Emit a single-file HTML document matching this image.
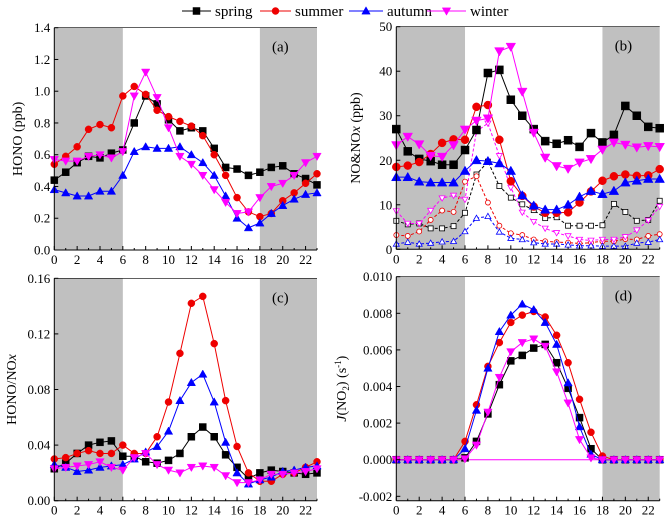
<!DOCTYPE html>
<html><head><meta charset="utf-8"><style>
html,body{margin:0;padding:0;background:#fff}
svg{display:block;font-family:"Liberation Serif",serif}
</style></head><body>
<svg id="chart" width="666" height="524" viewBox="0 0 666 524" xmlns="http://www.w3.org/2000/svg">
<g id="legend"></g>
</svg>
<script>
const hours=[0,1,2,3,4,5,6,7,8,9,10,11,12,13,14,15,16,17,18,19,20,21,22,23];
const seasons=["spring","summer","autumn","winter"];
const xTicks=[0,2,4,6,8,10,12,14,16,18,20,22];
// Panel a: HONO
const honoSpring=[.44,.49,.55,.59,.58,.61,.63,.80,.97,.92,.82,.75,.77,.75,.64,.52,.51,.47,.49,.52,.53,.48,.45,.41];
const honoSummer=[.54,.59,.65,.76,.79,.77,.97,1.03,.98,.88,.84,.81,.78,.72,.60,.47,.33,.24,.21,.23,.31,.36,.42,.48];
const honoAutumn=[.38,.36,.34,.34,.37,.37,.47,.62,.65,.64,.64,.65,.60,.55,.47,.34,.20,.14,.17,.23,.28,.32,.35,.36];
const honoWinter=[.57,.56,.56,.59,.60,.58,.62,.97,1.12,.96,.77,.59,.54,.47,.38,.30,.23,.24,.33,.40,.42,.47,.55,.59];
const honoTicks=[0,.2,.4,.6,.8,1.0,1.2,1.4];
// Panel b: NOx (solid) and NO (dashed)
const noxSpring=[27,22,20.3,19.8,19,19,22.3,26.8,39.6,40.3,33.6,30,27,24.3,23.7,24.5,23,26.1,24,25.7,32.2,30,27.5,27.2];
const noxSummer=[18.5,18.8,19.6,21.4,23.9,24.7,24.6,32,32.4,24.6,15.3,12,9.6,8.2,8.2,8.3,10.5,13,15.4,16.4,16.8,16.5,16.6,18];
const noxAutumn=[16.2,16.2,15.2,15,15,15,17.6,20,19.8,19.3,17.6,12.1,9.8,8.9,8.9,10,11.8,13.1,12.4,13.1,15,15.4,15.8,15.8];
const noxWinter=[23.4,25.3,23.6,21,20.8,23.4,26.9,28.9,29.4,44.5,45.5,35.4,26.2,20.6,18.7,18.1,19.5,20.3,22.4,24,23.5,22.9,23.2,23];
const noSpring=[6.4,5.6,5.8,4.7,4.7,5.2,8.2,16.8,19.7,14.2,11.6,10.1,8.8,7,7.2,5.3,5.3,5.3,5.4,10.2,8.4,6.4,6.6,10.9];
const noSummer=[3.2,3,4,6.6,8.7,8.4,15.2,16.4,10.5,5.3,3.6,3.2,2.2,1.8,1.6,1.5,1.3,1.5,1.8,1.8,2.3,2.2,3.0,3.4];
const noAutumn=[1.2,1.6,1.2,1.4,1.7,1.8,4,7,7.4,3.9,2.5,2.2,1.5,1.2,1.2,1.0,0.8,0.8,0.7,0.7,0.7,1.4,1.6,2.2];
const noWinter=[8.6,5.8,5.8,8.7,11.5,12.1,11.2,26.5,28.3,21,13.9,8.3,6.2,4.7,3.7,3.0,2.2,2.0,2.2,2.2,2.8,4.3,6.5,9.6];
const noxTicks=[0,10,20,30,40,50];
// Panel c: HONO/NOx
const ratioSpring=[.023,.027,.034,.040,.042,.043,.032,.032,.028,.027,.029,.034,.046,.053,.046,.033,.024,.016,.020,.022,.021,.020,.019,.020];
const ratioSummer=[.030,.031,.034,.036,.034,.034,.040,.034,.034,.046,.071,.106,.142,.147,.113,.072,.039,.020,.014,.014,.019,.020,.024,.028];
const ratioAutumn=[.026,.024,.021,.022,.024,.025,.026,.030,.035,.039,.050,.072,.085,.091,.071,.042,.020,.012,.015,.017,.021,.022,.024,.025];
const ratioWinter=[.023,.024,.025,.026,.028,.024,.022,.031,.034,.026,.022,.020,.024,.025,.024,.018,.013,.013,.015,.019,.019,.020,.021,.023];
const ratioTicks=[0,.04,.08,.12,.16];
const ratioTickLabels=["0.00","0.04","0.08","0.12","0.16"];
// Panel d: J(NO2)
const jSpring=[0,0,0,0,0,0,.0001,.001,.0025,.0041,.0054,.0057,.0061,.0063,.0053,.0039,.0023,.0006,0,0,0,0,0,0];
const jSummer=[0,0,0,0,0,0,.001,.003,.0051,.0064,.0075,.0079,.0081,.0078,.0068,.0053,.0033,.0015,.0002,0,0,0,0,0];
const jAutumn=[0,0,0,0,0,0,.0006,.0027,.0050,.0070,.0079,.0085,.0082,.0075,.0063,.0042,.0018,.0003,0,0,0,0,0,0];
const jWinter=[0,0,0,0,0,0,.00005,.0008,.0026,.0045,.0059,.0064,.0066,.0062,.0048,.0031,.0011,.0001,0,0,0,0,0,0];
const jTicks=[-.002,0,.002,.004,.006,.008,.010];
const jTickLabels=["-0.002","0.000","0.002","0.004","0.006","0.008","0.010"];

const colors={spring:"#000",summer:"#e00",autumn:"#00f",winter:"#f0f"};
const NS="http://www.w3.org/2000/svg";
const svg=document.getElementById("chart");
function mk(tag,attrs,parent){const e=document.createElementNS(NS,tag);for(const k in attrs)e.setAttribute(k,attrs[k]);(parent||svg).appendChild(e);return e;}
function marker(g,season,x,y,s,open){
  const c=colors[season];const fill=open?"#fff":c;let e;
  if(season==="spring")e=mk("rect",{x:x-s/2,y:y-s/2,width:s,height:s,fill:fill,stroke:c,"stroke-width":open?0.8:0.5},g);
  else if(season==="summer")e=mk("circle",{cx:x,cy:y,r:s/2,fill:fill,stroke:c,"stroke-width":open?0.8:0.5},g);
  else if(season==="autumn")e=mk("polygon",{points:`${x},${y-s*0.6} ${x-s*0.6},${y+s*0.45} ${x+s*0.6},${y+s*0.45}`,fill:fill,stroke:c,"stroke-width":open?0.8:0.5},g);
  else e=mk("polygon",{points:`${x},${y+s*0.6} ${x-s*0.6},${y-s*0.45} ${x+s*0.6},${y-s*0.45}`,fill:fill,stroke:c,"stroke-width":open?0.8:0.5},g);
  
  
}
function panel(p){
  const g=mk("g",{});
  
  
  const X=h=>p.l+(h-0)/(23-0)*(p.r-p.l);
  const Y=v=>p.b-(v-p.ymin)/(p.ymax-p.ymin)*(p.b-p.t);
  const s1=mk("rect",{x:X(0),y:p.t,width:X(6)-X(0),height:p.b-p.t,fill:"#c0c0c0"},g);
  
  
  const s2=mk("rect",{x:X(18),y:p.t,width:X(23)-X(18),height:p.b-p.t,fill:"#c0c0c0"},g);
  
  
  if(p.zero){const z=mk("line",{x1:X(0),x2:X(23),y1:Y(0),y2:Y(0),stroke:"#f0f","stroke-width":1},g);}
  // series
  p.series.forEach(sr=>{
    const pts=sr.data.map((v,i)=>X(hours[i])+","+Y(v)).join(" ");
    const ln=mk("polyline",{points:pts,fill:"none",stroke:colors[sr.season],"stroke-width":1,"stroke-dasharray":sr.dash?"3,2":"none"},g);
    
    
    sr.data.forEach((v,i)=>marker(g,sr.season,X(hours[i]),Y(v),sr.size,sr.open));
  });
  // axes
  mk("line",{x1:p.l,x2:p.l,y1:p.t,y2:p.b,stroke:"#000","stroke-width":1},g);
  mk("line",{x1:p.l,x2:p.r,y1:p.b,y2:p.b,stroke:"#000","stroke-width":1},g);
  mk("line",{x1:p.l,x2:p.r,y1:p.t,y2:p.t,stroke:"#000","stroke-width":0.6},g);
  hours.forEach(h=>{mk("line",{x1:X(h),x2:X(h),y1:p.b,y2:p.b-(h%2===0?4:2),stroke:"#000","stroke-width":1},g);});
  xTicks.forEach(h=>{const t=mk("text",{x:X(h),y:p.b+14,"text-anchor":"middle","font-size":13},g);t.textContent=h;
    });
  p.ticks.forEach((v,i)=>{
    mk("line",{x1:p.l,x2:p.l+4,y1:Y(v),y2:Y(v),stroke:"#000","stroke-width":1},g);
    const t=mk("text",{x:p.l-4,y:Y(v)+4.5,"text-anchor":"end","font-size":13},g);t.textContent=p.labels[i];
    
  });
  const lab=mk("text",{x:p.r-45,y:p.t+24,"font-size":15},g);lab.textContent="("+p.id+")";
  
  const yt=mk("text",{transform:`translate(${p.yx},${(p.t+p.b)/2}) rotate(-90)`,"text-anchor":"middle","font-size":14},g);
  yt.innerHTML=p.ytitle;
  
}
function ser(arrs,size,open,dash){return seasons.map((s,i)=>({season:s,data:arrs[i],size:size,open:open,dash:dash}));}
panel({id:"a",l:54.3,r:317,t:27.7,b:250,ymin:0,ymax:1.4,ticks:honoTicks,labels:honoTicks.map(v=>v.toFixed(1)),yx:22,ytitle:"HONO (ppb)",
  series:ser([honoSpring,honoSummer,honoAutumn,honoWinter],7,false,false)});
panel({id:"b",l:396.3,r:659.7,t:26.7,b:249.3,ymin:0,ymax:50,ticks:noxTicks,labels:noxTicks.map(String),yx:360,ytitle:"NO&amp;NO<tspan font-style='italic'>x</tspan> (ppb)",
  series:ser([noSpring,noSummer,noAutumn,noWinter],5,true,true).concat(ser([noxSpring,noxSummer,noxAutumn,noxWinter],8,false,false))});
panel({id:"c",l:54.3,r:317,t:278.3,b:500.7,ymin:0,ymax:0.16,ticks:ratioTicks,labels:ratioTickLabels,yx:16,ytitle:"HONO/NO<tspan font-style='italic'>x</tspan>",
  series:ser([ratioSpring,ratioSummer,ratioAutumn,ratioWinter],7,false,false)});
panel({id:"d",l:396.3,r:659.7,t:276.7,b:500.7,ymin:-0.00224,ymax:0.010,ticks:jTicks,labels:jTickLabels,yx:346,zero:true,
  ytitle:"<tspan font-style='italic'>J</tspan>(NO<tspan font-size='9' dy='3'>2</tspan><tspan dy='-3'>) (s</tspan><tspan font-size='9' dy='-5'>-1</tspan><tspan dy='5'>)</tspan>",
  series:ser([jSpring,jSummer,jAutumn,jWinter],7,false,false)});
// legend
const lg=document.getElementById("legend");
const legPos=[[182,215],[260,295],[349,387],[427,470]];
seasons.forEach((s,i)=>{
  const g=mk("g",{},lg);
  
  
  mk("line",{x1:legPos[i][0],x2:legPos[i][1]-4,y1:11,y2:11,stroke:colors[s],"stroke-width":1},g);
  marker(g,s,(legPos[i][0]+legPos[i][1]-4)/2,11,7,false);
  const t=mk("text",{x:legPos[i][1],y:16,"font-size":15},g);t.textContent=s;
});
</script>
</body></html>
